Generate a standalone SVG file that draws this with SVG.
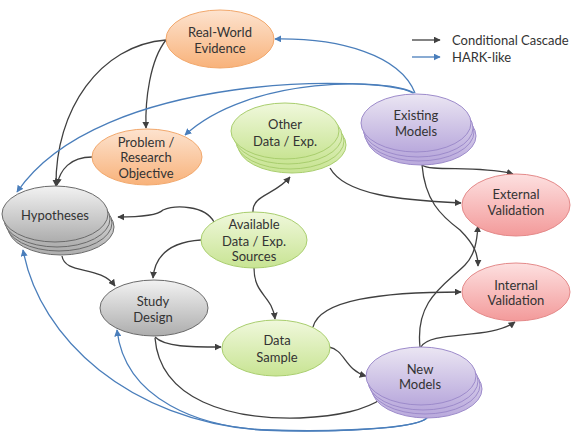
<svg xmlns="http://www.w3.org/2000/svg" width="573" height="443" viewBox="0 0 573 443">
<style>
text{font-family:Lato,"Open Sans","Liberation Sans",sans-serif;font-size:13px;fill:#333;text-anchor:middle}
.leg{text-anchor:start}
.c{fill:none;stroke:#404040;stroke-width:1.3}
.h{fill:none;stroke:#4a7ebb;stroke-width:1.3}
.or{fill:url(#gOr);stroke:#f2a86c;stroke-width:1}
.gr{fill:url(#gGr);stroke:#a9ce6e;stroke-width:1}
.pu{fill:url(#gPu);stroke:#9d8bcb;stroke-width:1}
.re{fill:url(#gRe);stroke:#e48a8a;stroke-width:1}
.gy{fill:url(#gGy);stroke:#6a6a6a;stroke-width:1}
</style>
<defs>
<linearGradient id="gOr" x1="0" y1="0" x2="0" y2="1"><stop offset="0" stop-color="#fde3cf"/><stop offset="1" stop-color="#f8b27a"/></linearGradient>
<linearGradient id="gGr" x1="0" y1="0" x2="0" y2="1"><stop offset="0" stop-color="#f0f8dc"/><stop offset="1" stop-color="#c8e493"/></linearGradient>
<linearGradient id="gPu" x1="0" y1="0" x2="0" y2="1"><stop offset="0" stop-color="#ebe6f3"/><stop offset="1" stop-color="#b9a9dc"/></linearGradient>
<linearGradient id="gRe" x1="0" y1="0" x2="0" y2="1"><stop offset="0" stop-color="#fde0e0"/><stop offset="1" stop-color="#f39a9a"/></linearGradient>
<linearGradient id="gGy" x1="0" y1="0" x2="0" y2="1"><stop offset="0" stop-color="#f2f2f2"/><stop offset="1" stop-color="#adadad"/></linearGradient>
<marker id="aK" viewBox="0 0 10 10" refX="9" refY="5" markerWidth="7" markerHeight="7" markerUnits="userSpaceOnUse" orient="auto"><path d="M0,0 L10,5 L0,10 z" fill="#404040"/></marker>
<marker id="aB" viewBox="0 0 10 10" refX="9" refY="5" markerWidth="7" markerHeight="7" markerUnits="userSpaceOnUse" orient="auto"><path d="M0,0 L10,5 L0,10 z" fill="#4a7ebb"/></marker>
</defs>

<g id="connectors">
<path class="c" marker-end="url(#aK)" d="M166,40 C100,45 55,110 56,186"/>
<path class="c" marker-end="url(#aK)" d="M166,40 C150,60 145,100 146,128"/>
<path class="c" marker-end="url(#aK)" d="M92,157 C70,157 60,170 57,185"/>
<path class="c" marker-end="url(#aK)" d="M214,222 C205,205 175,205 163,210 C158,215 145,217 118,217"/>
<path class="c" marker-end="url(#aK)" d="M201,240 C170,242 155,255 153,278"/>
<path class="c" marker-end="url(#aK)" d="M253,212 C252,195 275,195 290,177"/>
<path class="c" marker-end="url(#aK)" d="M254,268 C254,295 272,295 275,319"/>
<path class="c" marker-end="url(#aK)" d="M62,256 C65,275 100,265 115,286"/>
<path class="c" marker-end="url(#aK)" d="M155,337 C165,347 190,347 221,347"/>
<path class="c" marker-end="url(#aK)" d="M155,338 C160,400 230,420 300,418 C340,416 365,410 383,398"/>
<path class="c" marker-end="url(#aK)" d="M329,347 C345,350 345,370 366,376"/>
<path class="c" marker-end="url(#aK)" d="M313,327 C320,300 380,292 461,292"/>
<path class="c" marker-end="url(#aK)" d="M420,347 C415,300 445,285 465,265 C475,255 477,240 478,226"/>
<path class="c" marker-end="url(#aK)" d="M421,347 C430,330 490,340 515,322"/>
<path class="c" marker-end="url(#aK)" d="M422,165 C430,172 480,165 513,174"/>
<path class="c" marker-end="url(#aK)" d="M422,165 C425,200 440,215 460,230 C475,245 478,255 478,266"/>
<path class="c" marker-end="url(#aK)" d="M330,168 C345,195 400,200 461,203"/>
<path class="h" marker-end="url(#aB)" d="M415,93 C400,55 340,38 275,39"/>
<path class="h" marker-end="url(#aB)" d="M414,93 C390,78 250,75 185,135"/>
<path class="h" marker-end="url(#aB)" d="M413,93 C380,75 100,70 17,192"/>
<path class="h" marker-end="url(#aB)" d="M427,418 C410,432 300,432 260,430 C130,420 40,340 23,250"/>
<path class="h" marker-end="url(#aB)" d="M427,418 C415,430 320,432 270,430 C200,428 125,400 117,330"/>
</g>

<g id="legend">
<line class="c" x1="412" y1="40" x2="440" y2="40" marker-end="url(#aK)"/>
<line class="h" x1="412" y1="57" x2="440" y2="57" marker-end="url(#aB)"/>
<text class="leg" x="452" y="44.5">Conditional Cascade</text>
<text class="leg" x="452" y="61.5">HARK-like</text>
</g>

<g id="real-world-evidence">
<ellipse class="or" cx="220" cy="39" rx="54" ry="29"/>
<text x="220" y="36.5">Real-World</text>
<text x="220" y="52.5">Evidence</text>
</g>

<g id="problem">
<ellipse class="or" cx="147" cy="157" rx="55" ry="28"/>
<text x="146" y="146.5">Problem /</text>
<text x="146" y="161.5">Research</text>
<text x="146" y="177.5">Objective</text>
</g>

<g id="hypotheses">
<ellipse class="gy" cx="61" cy="227" rx="53" ry="28"/>
<ellipse class="gy" cx="59" cy="223" rx="53" ry="28"/>
<ellipse class="gy" cx="57" cy="219" rx="53" ry="28"/>
<ellipse class="gy" cx="55" cy="214" rx="53" ry="28"/>
<text x="55" y="219.5">Hypotheses</text>
</g>

<g id="other-data">
<ellipse class="gr" cx="292" cy="145" rx="54" ry="28"/>
<ellipse class="gr" cx="290" cy="141" rx="54" ry="28"/>
<ellipse class="gr" cx="288" cy="136" rx="54" ry="28"/>
<ellipse class="gr" cx="285" cy="131" rx="54" ry="28"/>
<text x="285" y="128.5">Other</text>
<text x="285" y="145.5">Data / Exp.</text>
</g>

<g id="existing-models">
<ellipse class="pu" cx="421" cy="136" rx="55" ry="29"/>
<ellipse class="pu" cx="419" cy="132" rx="55" ry="29"/>
<ellipse class="pu" cx="418" cy="128" rx="55" ry="29"/>
<ellipse class="pu" cx="416" cy="123" rx="55" ry="29"/>
<text x="416" y="119.5">Existing</text>
<text x="416" y="135.5">Models</text>
</g>

<g id="external-validation">
<ellipse class="re" cx="516" cy="205" rx="54" ry="31"/>
<text x="516" y="198.5">External</text>
<text x="516" y="214.5">Validation</text>
</g>

<g id="available-data">
<ellipse class="gr" cx="254" cy="240" rx="53" ry="28"/>
<text x="254" y="228.5">Available</text>
<text x="254" y="245.5">Data / Exp.</text>
<text x="254" y="260.5">Sources</text>
</g>

<g id="study-design">
<ellipse class="gy" cx="154" cy="308" rx="54" ry="28"/>
<text x="153" y="305.5">Study</text>
<text x="153" y="321.5">Design</text>
</g>

<g id="internal-validation">
<ellipse class="re" cx="516" cy="292" rx="54" ry="29"/>
<text x="516" y="289.5">Internal</text>
<text x="516" y="304.5">Validation</text>
</g>

<g id="data-sample">
<ellipse class="gr" cx="276" cy="348" rx="54" ry="28"/>
<text x="277" y="344.5">Data</text>
<text x="277" y="361.5">Sample</text>
</g>

<g id="new-models">
<ellipse class="pu" cx="427" cy="389" rx="55" ry="29"/>
<ellipse class="pu" cx="425" cy="385" rx="55" ry="29"/>
<ellipse class="pu" cx="423" cy="381" rx="55" ry="29"/>
<ellipse class="pu" cx="421" cy="376" rx="55" ry="29"/>
<text x="420" y="373.5">New</text>
<text x="420" y="388.5">Models</text>
</g>
</svg>
